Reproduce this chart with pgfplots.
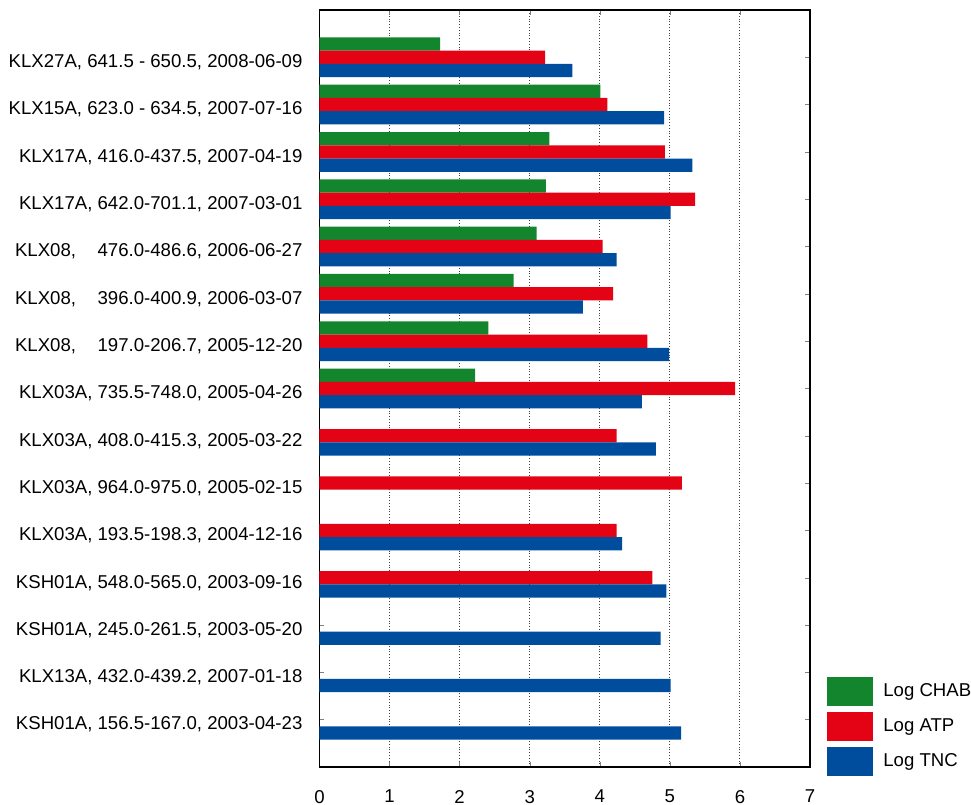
\documentclass[border=0pt]{standalone}
\usepackage{fontspec}
\setmainfont{Liberation Sans}
\usepackage{pgfplots}
\pgfplotsset{compat=1.18}

\definecolor{chab}{RGB}{19,133,45}
\definecolor{atp}{RGB}{228,3,20}
\definecolor{tnc}{RGB}{0,77,158}

\begin{document}
\begin{tikzpicture}
\begin{axis}[
  name=ax,
  scale only axis,
  width=245.25pt, height=378.5pt,
  xbar, bar width=0.28,
  xmin=0, xmax=7, ymin=0, ymax=16,
  xtick={0,...,7},
  ytick={1,...,15},
  yticklabels={
    {KSH01A, 156.5-167.0, 2003-04-23},
    {KLX13A, 432.0-439.2, 2007-01-18},
    {KSH01A, 245.0-261.5, 2003-05-20},
    {KSH01A, 548.0-565.0, 2003-09-16},
    {KLX03A, 193.5-198.3, 2004-12-16},
    {KLX03A, 964.0-975.0, 2005-02-15},
    {KLX03A, 408.0-415.3, 2005-03-22},
    {KLX03A, 735.5-748.0, 2005-04-26},
    {KLX08,\hspace{10.8pt}197.0-206.7, 2005-12-20},
    {KLX08,\hspace{10.8pt}396.0-400.9, 2006-03-07},
    {KLX08,\hspace{10.8pt}476.0-486.6, 2006-06-27},
    {KLX17A, 642.0-701.1, 2007-03-01},
    {KLX17A, 416.0-437.5, 2007-04-19},
    {KLX15A, 623.0 - 634.5, 2007-07-16},
    {KLX27A, 641.5 - 650.5, 2008-06-09}},
  tick label style={font=\fontsize{9.3}{11}\selectfont},
  /pgf/number format/assume math mode=true,
  yticklabel style={xshift=-5pt, yshift=-2.5pt},
  xticklabel style={yshift=-8pt},
  tick align=inside,
  major tick length=2.5pt,
  xmajorgrids,
  major grid style={densely dotted, black!75, line width=0.5pt},
  axis line style={line width=0.6pt},
  legend style={draw=none, fill=none,
    at={(axis description cs:1,0)}, anchor=south west,
    xshift=8.5pt, yshift=-4.5pt,
    inner sep=0pt, row sep=3pt,
    nodes={inner sep=0pt},
    font=\fontsize{9.3}{11}\selectfont,
    /tikz/every odd column/.append style={column sep=5pt}},
  legend cell align=left,
  legend image code/.code={\fill[#1] (0pt,-7.2pt) rectangle (23pt,7.2pt);},
]
% Log CHAB
\addplot[fill=chab, draw=none, bar shift=0.28] coordinates {
  (1.72,15) (4.01,14) (3.28,13) (3.23,12) (3.10,11) (2.77,10) (2.41,9) (2.22,8)
};
% Log ATP
\addplot[fill=atp, draw=none, bar shift=0] coordinates {
  (3.22,15) (4.11,14) (4.93,13) (5.36,12) (4.04,11) (4.19,10) (4.68,9) (5.93,8)
  (4.24,7) (5.17,6) (4.24,5) (4.75,4)
};
% Log TNC
\addplot[fill=tnc, draw=none, bar shift=-0.28] coordinates {
  (3.61,15) (4.92,14) (5.32,13) (5.01,12) (4.24,11) (3.76,10) (4.99,9) (4.60,8)
  (4.80,7) (4.32,5) (4.95,4) (4.87,3) (5.01,2) (5.16,1)
};
\legend{Log CHAB, Log ATP, Log TNC}
\end{axis}
\pgfresetboundingbox
\path ([xshift=-159.75pt,yshift=-19pt]ax.south west) rectangle ([xshift=80.5pt,yshift=5pt]ax.north east);
\end{tikzpicture}
\end{document}
